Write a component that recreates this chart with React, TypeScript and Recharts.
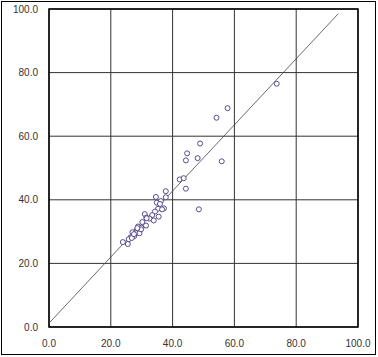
import { CartesianGrid, ReferenceArea, ReferenceLine, Scatter, ScatterChart, XAxis, YAxis } from "recharts";

const xVals = [
  73.7, 57.8, 54.2, 48.9, 44.7, 44.3, 48.1, 55.9, 42.3, 43.6, 44.3, 48.5, 37.8, 37.8, 34.6, 36.2, 34.9, 35.9, 37.2, 35.3, 34.3,
  31.0, 33.4, 33.9, 31.5, 32.5, 30.2, 31.4, 28.8, 29.9, 28.4, 27.0, 28.2, 29.3, 27.6, 26.4, 25.8, 23.9, 25.5, 26.8, 36.6, 35.5,
  31.6, 29.8, 28.6, 27.5,
];
const yVals = [
  76.5, 68.8, 65.8, 57.7, 54.6, 52.4, 53.1, 52.1, 46.4, 46.8, 43.5, 37.0, 42.7, 40.8, 40.9, 39.6, 39.1, 38.7, 37.3, 37.2, 36.3,
  35.5, 35.2, 33.5, 34.4, 34.1, 33.0, 31.9, 31.6, 31.2, 30.5, 29.8, 29.5, 29.5, 28.6, 28.2, 27.6, 26.7, 26.1, 28.0, 37.0, 34.7,
  34.2, 30.7, 31.1, 29.2,
];
const axisTicks = [0, 20, 40, 60, 80, 100];
const fitLine = [
  { x: 0, y: 1.2 },
  { x: 93.6, y: 98.5 },
];

const points = xVals.map((x, i) => ({ x, y: yVals[i] }));

const tickStyle = { fill: "#333", fontSize: 10, fontFamily: "Liberation Sans, Arial, sans-serif" };

const Dot = (props: { cx?: number; cy?: number }) => (
  <circle cx={props.cx} cy={props.cy} r={2.5} fill="#fff" stroke="#5b4a8c" strokeWidth={1} />
);

export default function App() {
  return (
    <div style={{ position: "fixed", left: 0, top: 0, width: 378, height: 357, background: "#fff" }}>
      <div style={{ position: "absolute", left: 1, top: 1, width: 373, height: 352, border: "1px solid #000" }} />
      <div style={{ position: "absolute", left: 0, top: 0 }}>
        <ScatterChart width={378} height={357} margin={{ top: 9, right: 20, bottom: 0, left: 0 }}>
          <CartesianGrid stroke="#333" strokeWidth={1} horizontalValues={axisTicks} verticalValues={axisTicks} />
          <XAxis
            type="number"
            dataKey="x"
            domain={[0, 100]}
            ticks={axisTicks}
            tickFormatter={(v: number) => v.toFixed(1)}
            tick={tickStyle}
            tickLine={false}
            axisLine={false}
            tickMargin={7}
            height={30}
            allowDataOverflow
          />
          <YAxis
            type="number"
            dataKey="y"
            domain={[0, 100]}
            ticks={axisTicks}
            tickFormatter={(v: number) => v.toFixed(1)}
            tick={tickStyle}
            tickLine={false}
            axisLine={false}
            tickMargin={5}
            width={49}
            allowDataOverflow
          />
          <ReferenceArea x1={0} x2={100} y1={0} y2={100} fill="none" stroke="#000" strokeWidth={1.5} fillOpacity={0} />
          <ReferenceLine segment={fitLine} stroke="#444" strokeWidth={0.8} />
          <Scatter data={points} shape={<Dot />} isAnimationActive={false} />
        </ScatterChart>
      </div>
    </div>
  );
}
